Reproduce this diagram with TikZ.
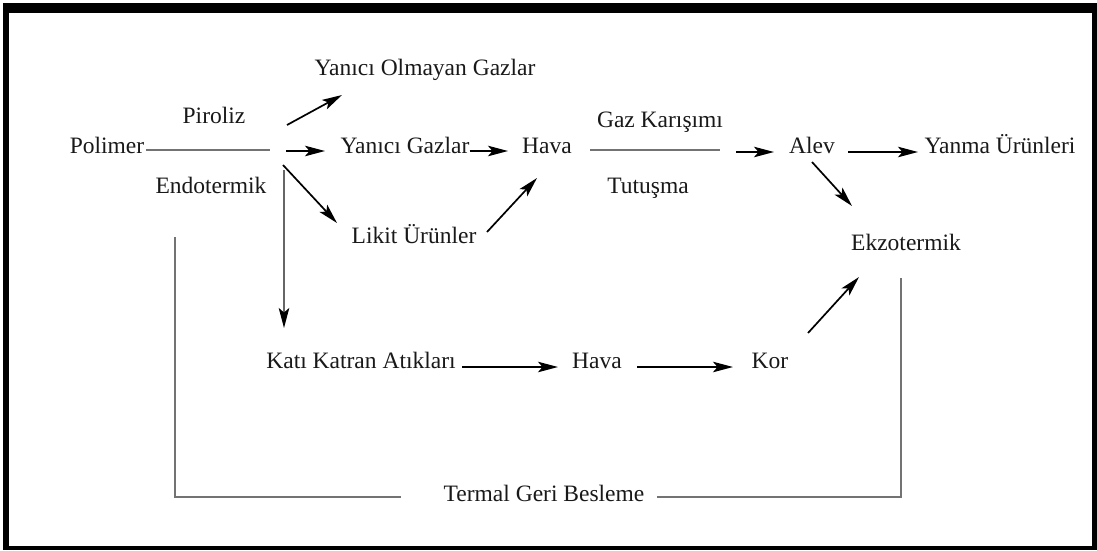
\documentclass[tikz,border=0pt]{standalone}
\usepackage{fontspec}
\setmainfont{Liberation Serif}
\usetikzlibrary{arrows.meta}
\begin{document}
\begin{tikzpicture}[x=1pt,y=-1pt,
 txt/.style={font=\fontsize{23.5}{28}\selectfont, inner sep=0pt, anchor=base, text=black!90},
 arr/.style={draw=black, line width=1.7pt, -{Stealth[length=20pt,width=10.5pt,inset=4.5pt]}},
 gline/.style={draw=black!55, line width=1.8pt},
 garr/.style={draw=black!60, line width=1.8pt, -{Stealth[length=20pt,width=10.5pt,inset=4.5pt,color=black]}}]
\useasboundingbox (0,0) rectangle (1097,550);
\fill[black] (3,3) rectangle (1097,550);
\fill[white] (9,13) rectangle (1092,546);

% texts
\node[txt] (polimer) at (107,153) {Polimer};
\node[txt] (piroliz) at (214,123) {Piroliz};
\node[txt] (endo) at (211,193) {Endotermik};
\node[txt] (yog) at (425,75) {Yanıcı Olmayan Gazlar};
\node[txt] (yg) at (405,153) {Yanıcı Gazlar};
\node[txt] (hava1) at (547,153) {Hava};
\node[txt] (likit) at (414,243) {Likit Ürünler};
\node[txt] (gaz) at (660,127) {Gaz Karışımı};
\node[txt] (tutusma) at (648,193) {Tutuşma};
\node[txt] (alev) at (812,153) {Alev};
\node[txt] (yanma) at (1000,153) {Yanma Ürünleri};
\node[txt] (ekzo) at (906,250) {Ekzotermik};
\node[txt] (kati) at (361,368) {Katı Katran Atıkları};
\node[txt] (hava2) at (597,368) {Hava};
\node[txt] (kor) at (770,368) {Kor};
\node[txt] (termal) at (544,501) {Termal Geri Besleme};

% connector end points
\coordinate (pirolizEnd) at (270,150);
\coordinate (s1) at (287,125); \coordinate (t1) at (342,95);
\coordinate (s2) at (286,151); \coordinate (t2) at (325,151);
\coordinate (s3) at (283,165); \coordinate (t3) at (337,223);
\coordinate (s4) at (284,170); \coordinate (t4) at (284,328);
\coordinate (ygEnd) at (508,151);
\coordinate (likitStart) at (487,232); \coordinate (likitEnd) at (537,178);
\coordinate (gazStart) at (590,150); \coordinate (gazEnd) at (720,150);
\coordinate (s5) at (736,152); \coordinate (t5) at (774,152);
\coordinate (alevStart) at (848,152); \coordinate (alevEnd) at (918,152);
\coordinate (alevStart2) at (812,162); \coordinate (alevEnd2) at (852,206);
\coordinate (katiStart) at (462,367); \coordinate (katiEnd) at (558,367);
\coordinate (havaStart) at (637,367); \coordinate (havaEnd) at (733,367);
\coordinate (korStart) at (808,333); \coordinate (korEnd) at (859,277);
\coordinate (fbA) at (175,237); \coordinate (fbB) at (175,497); \coordinate (fbC) at (401,497);
\coordinate (fbD) at (657,497); \coordinate (fbE) at (901,497); \coordinate (fbF) at (901,278);

% connectors
\draw[gline] ([yshift=3pt,xshift=2pt]polimer.base east) -- (pirolizEnd);
\draw[arr] (s1) -- (t1);
\draw[arr] (s2) -- (t2);
\draw[arr] (s3) -- (t3);
\draw[garr] (s4) -- (t4);
\draw[arr] ([yshift=2pt]yg.base east) -- (ygEnd);
\draw[arr] (likitStart) -- (likitEnd);
\draw[gline] (gazStart) -- (gazEnd);
\draw[arr] (s5) -- (t5);
\draw[arr] (alevStart) -- (alevEnd);
\draw[arr] (alevStart2) -- (alevEnd2);
\draw[arr] (katiStart) -- (katiEnd);
\draw[arr] (havaStart) -- (havaEnd);
\draw[arr] (korStart) -- (korEnd);
\draw[gline] (fbA) -- (fbB) -- (fbC);
\draw[gline] (fbD) -- (fbE) -- (fbF);
\end{tikzpicture}
\end{document}
